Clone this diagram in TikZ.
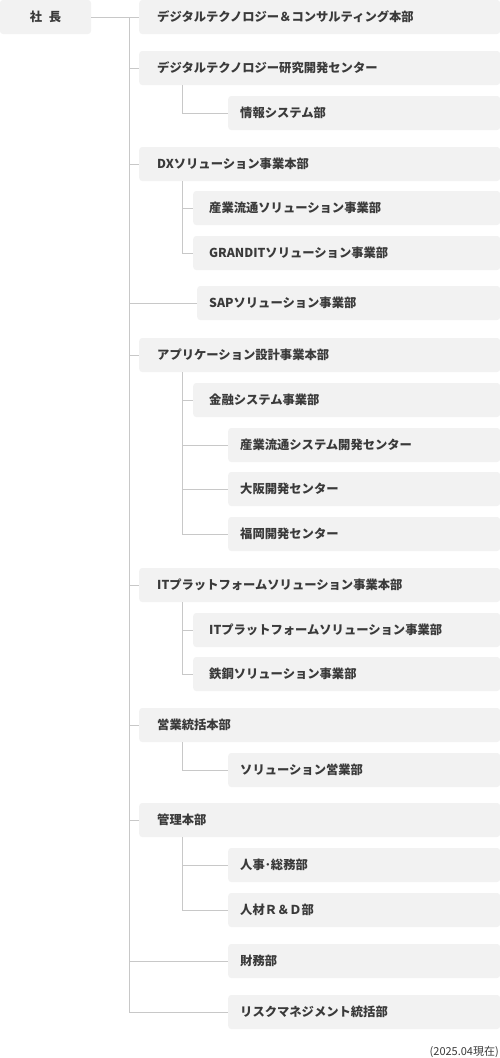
\documentclass[tikz,border=0pt]{standalone}
\usepackage{fontspec}
\setmainfont{Noto Sans CJK JP}
\definecolor{boxgray}{HTML}{F2F2F2}
\definecolor{linegray}{HTML}{C8C8C8}
\definecolor{textgray}{HTML}{3A3A3A}
\tikzset{
  unit/.style={fill=boxgray, rounded corners=3pt, anchor=west, minimum height=34pt,
    inner ysep=0pt, align=left, text height=11pt, text depth=1.4pt,
    font=\fontsize{12.3}{15}\selectfont\bfseries, text=textgray},
  head/.style={unit, inner xsep=18pt, text width=325pt},
  dept/.style={unit, inner xsep=16pt, text width=275pt},
  sect/.style={unit, inner xsep=12pt, text width=248pt},
  link/.style={draw=linegray, line width=1pt},
}
\begin{document}
\begin{tikzpicture}[x=1pt, y=-1pt]
    \useasboundingbox (0,0) rectangle (500,1058);
    \node[unit, anchor=center, minimum width=91pt, inner xsep=0pt] (pres) at (45.5, 17) {社\hspace{0.55em}長};
    \node[head] (dtc) at (139, 17) {デジタルテクノロジー＆コンサルティング本部};
    \node[head] (dtr) at (139, 68) {デジタルテクノロジー研究開発センター};
    \node[sect] (info) at (228, 113) {情報システム部};
    \node[head] (dx) at (139, 164) {DXソリューション事業本部};
    \node[dept] (sangyo) at (193, 208) {産業流通ソリューション事業部};
    \node[dept] (grandit) at (193, 253) {GRANDITソリューション事業部};
    \node[sect, text width=279pt] (sap) at (197, 303) {SAPソリューション事業部};
    \node[head] (app) at (139, 355) {アプリケーション設計事業本部};
    \node[dept] (kinyu) at (193, 400) {金融システム事業部};
    \node[sect] (sdev) at (228, 445) {産業流通システム開発センター};
    \node[sect] (osaka) at (228, 489) {大阪開発センター};
    \node[sect] (fukuoka) at (228, 534) {福岡開発センター};
    \node[head] (itp) at (139, 585) {ITプラットフォームソリューション事業本部};
    \node[dept] (itpd) at (193, 630) {ITプラットフォームソリューション事業部};
    \node[dept] (tekko) at (193, 674) {鉄鋼ソリューション事業部};
    \node[head] (eigyo) at (139, 725) {営業統括本部};
    \node[sect] (solsales) at (228, 770) {ソリューション営業部};
    \node[head] (kanri) at (139, 820) {管理本部};
    \node[sect] (jinji) at (228, 865) {人事･総務部};
    \node[sect] (jinzai) at (228, 910) {人材Ｒ＆Ｄ部};
    \node[sect] (zaimu) at (228, 961) {財務部};
    \node[sect] (risk) at (228, 1012) {リスクマネジメント統括部};
    \node[anchor=east, inner sep=0pt, text=textgray, font=\fontsize{11}{13}\selectfont] (note) at (499, 1052) {(2025.04現在)};
    \coordinate (trunk) at (129, 17);
    % trunk
    \draw [link] (pres) to (dtc);
    \draw [link] (trunk) |- (dtr.west);
    \draw [link] (trunk) |- (dx.west);
    \draw [link] (trunk) |- (sap.west);
    \draw [link] (trunk) |- (app.west);
    \draw [link] (trunk) |- (itp.west);
    \draw [link] (trunk) |- (eigyo.west);
    \draw [link] (trunk) |- (kanri.west);
    \draw [link] (trunk) |- (zaimu.west);
    \draw [link] (trunk) |- (risk.west);
    % branches
    \draw [link] ([xshift=43pt]dtr.south west) |- (info.west);
    \draw [link] ([xshift=43pt]dx.south west) |- (sangyo.west);
    \draw [link] ([xshift=43pt]dx.south west) |- (grandit.west);
    \draw [link] ([xshift=43pt]app.south west) |- (kinyu.west);
    \draw [link] ([xshift=43pt]app.south west) |- (sdev.west);
    \draw [link] ([xshift=43pt]app.south west) |- (osaka.west);
    \draw [link] ([xshift=43pt]app.south west) |- (fukuoka.west);
    \draw [link] ([xshift=43pt]itp.south west) |- (itpd.west);
    \draw [link] ([xshift=43pt]itp.south west) |- (tekko.west);
    \draw [link] ([xshift=43pt]eigyo.south west) |- (solsales.west);
    \draw [link] ([xshift=43pt]kanri.south west) |- (jinji.west);
    \draw [link] ([xshift=43pt]kanri.south west) |- (jinzai.west);
\end{tikzpicture}
\end{document}
